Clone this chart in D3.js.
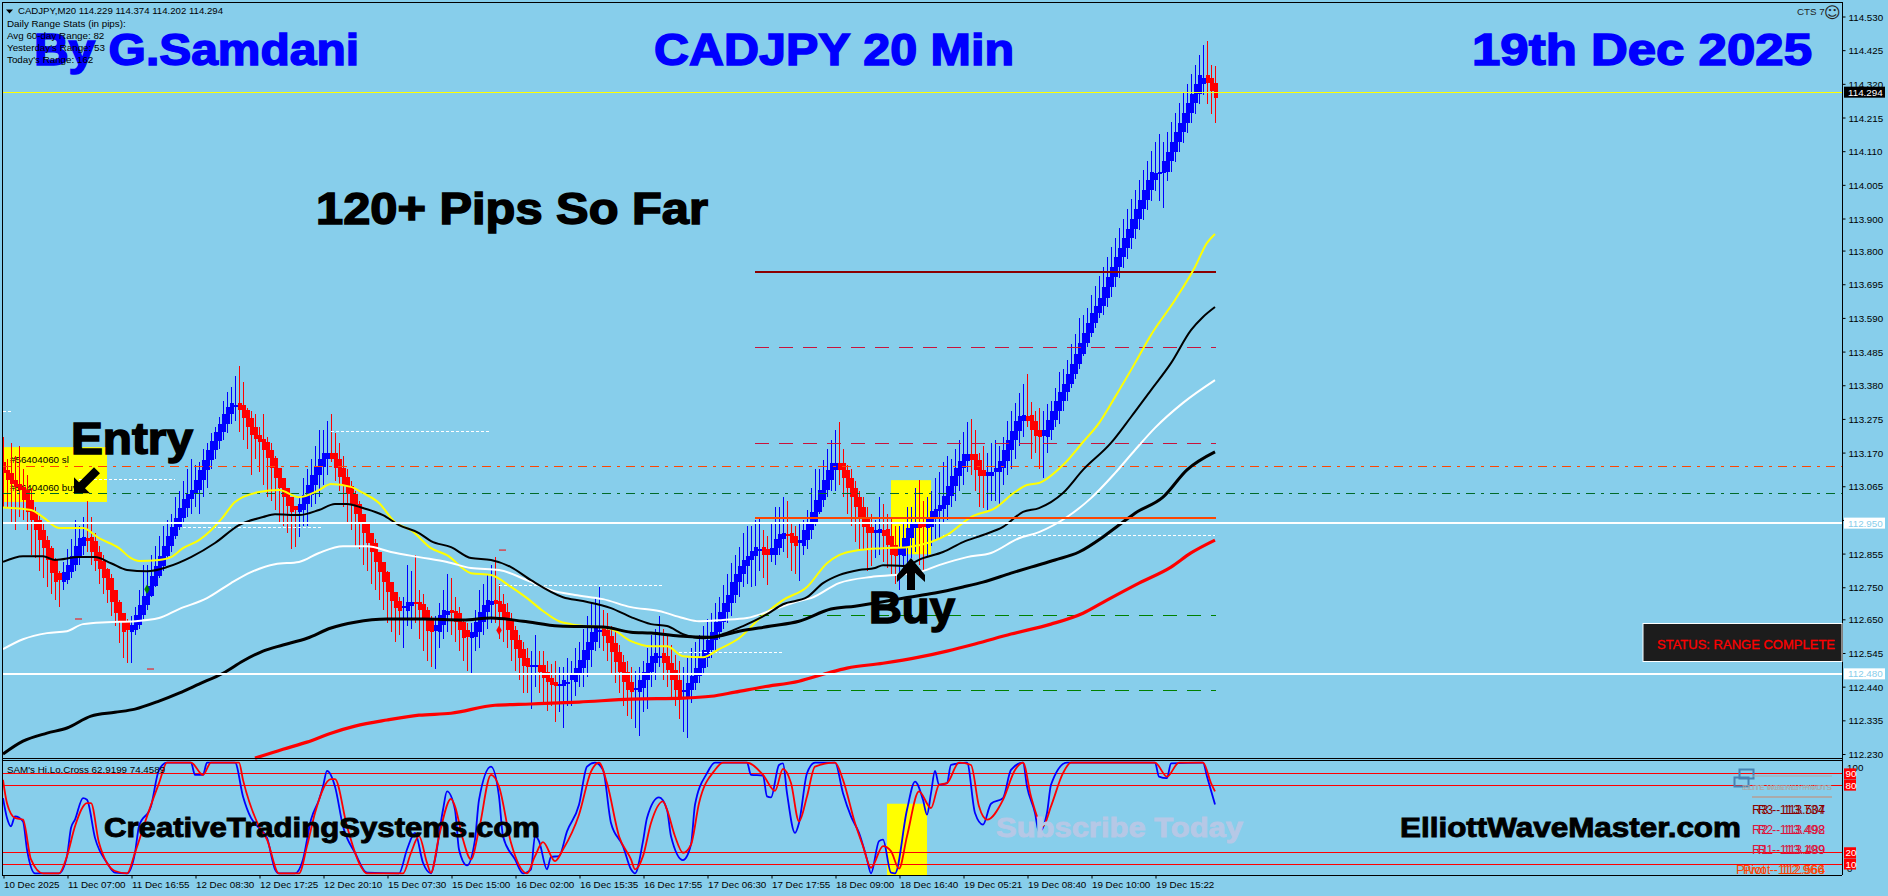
<!DOCTYPE html>
<html>
<head>
<meta charset="utf-8">
<title>CADJPY 20 Min</title>
<script src="https://cdn.jsdelivr.net/npm/d3@7"></script>
<style>
html, body { margin: 0; padding: 0; background: #87CEEB; overflow: hidden; }
svg { display: block; }
.small { font-family: "Liberation Sans", sans-serif; font-size: 9.8px; fill: #000; }
.big { font-family: "Liberation Sans", sans-serif; font-weight: bold; }
.axisTxt text { font-family: "Liberation Sans", sans-serif; font-size: 9.8px; fill: #000; }
</style>
</head>
<body>
<script>
// CADJPY M20 chart, Heiken Ashi style candles with moving averages and a stochastic window below

var candleOpen = [113.140,113.116,113.106,113.084,113.072,113.063,113.053,113.022,112.985,112.960,
112.928,112.897,112.872,112.835,112.794,112.766,112.772,112.797,112.819,112.847,
112.878,112.903,112.907,112.894,112.860,112.832,112.807,112.779,112.741,112.704,
112.669,112.641,112.610,112.616,112.632,112.663,112.694,112.722,112.754,112.785,
112.816,112.847,112.878,112.910,112.938,112.966,112.997,113.025,113.041,113.053,
113.084,113.116,113.147,113.178,113.206,113.234,113.259,113.290,113.312,113.325,
113.318,113.303,113.278,113.250,113.225,113.212,113.203,113.178,113.153,113.122,
113.091,113.059,113.031,113.003,112.985,112.991,113.010,113.038,113.069,113.100,
113.125,113.150,113.169,113.169,113.150,113.122,113.094,113.066,113.041,113.010,
112.978,112.950,112.919,112.888,112.860,112.829,112.797,112.766,112.735,112.707,
112.685,112.676,112.691,112.704,112.704,112.697,112.679,112.648,112.613,112.610,
112.632,112.663,112.679,112.676,112.669,112.641,112.616,112.591,112.594,112.610,
112.641,112.673,112.694,112.710,112.707,112.697,112.673,112.648,112.616,112.585,
112.557,112.529,112.504,112.501,112.507,112.507,112.485,112.467,112.454,112.445,
112.442,112.448,112.460,112.454,112.476,112.498,112.523,112.554,112.579,112.610,
112.626,112.616,112.598,112.576,112.548,112.517,112.485,112.454,112.429,112.423,
112.435,112.460,112.485,112.513,112.535,112.545,112.535,112.513,112.492,112.460,
112.429,112.407,112.429,112.451,112.473,112.498,112.529,112.554,112.585,112.610,
112.641,112.673,112.701,112.726,112.766,112.791,112.816,112.835,112.847,112.863,
112.875,112.869,112.850,112.850,112.872,112.900,112.916,112.919,112.910,112.888,
112.878,112.897,112.928,112.953,112.985,113.022,113.053,113.084,113.116,113.137,
113.137,113.116,113.091,113.059,113.031,113.000,112.969,112.938,112.919,112.919,
112.928,112.932,112.910,112.882,112.850,112.847,112.875,112.903,112.935,112.953,
112.953,112.935,112.938,112.966,112.988,112.994,113.006,113.034,113.066,113.097,
113.122,113.144,113.166,113.166,113.147,113.116,113.097,113.097,113.109,113.109,
113.122,113.144,113.178,113.209,113.237,113.269,113.284,113.287,113.269,113.240,
113.222,113.219,113.240,113.272,113.300,113.331,113.359,113.384,113.415,113.446,
113.478,113.512,113.543,113.574,113.605,113.627,113.652,113.687,113.718,113.749,
113.780,113.808,113.839,113.868,113.899,113.930,113.958,113.989,114.020,114.045,
114.042,114.045,114.080,114.108,114.139,114.170,114.198,114.229,114.261,114.289,
114.320,114.348,114.339,114.323];

var candleClose = [113.106,113.084,113.072,113.063,113.053,113.022,112.985,112.960,112.928,112.897,
112.872,112.835,112.794,112.766,112.772,112.797,112.819,112.847,112.878,112.903,
112.907,112.894,112.860,112.832,112.807,112.779,112.741,112.704,112.669,112.641,
112.610,112.616,112.632,112.663,112.694,112.722,112.754,112.785,112.816,112.847,
112.878,112.910,112.938,112.966,112.997,113.025,113.041,113.053,113.084,113.116,
113.147,113.178,113.206,113.234,113.259,113.290,113.312,113.325,113.318,113.303,
113.278,113.250,113.225,113.212,113.203,113.178,113.153,113.122,113.091,113.059,
113.031,113.003,112.985,112.991,113.010,113.038,113.069,113.100,113.125,113.150,
113.169,113.169,113.150,113.122,113.094,113.066,113.041,113.010,112.978,112.950,
112.919,112.888,112.860,112.829,112.797,112.766,112.735,112.707,112.685,112.676,
112.691,112.704,112.704,112.697,112.679,112.648,112.613,112.610,112.632,112.663,
112.679,112.676,112.669,112.641,112.616,112.591,112.594,112.610,112.641,112.673,
112.694,112.710,112.707,112.697,112.673,112.648,112.616,112.585,112.557,112.529,
112.504,112.501,112.507,112.507,112.485,112.467,112.454,112.445,112.442,112.448,
112.460,112.454,112.476,112.498,112.523,112.554,112.579,112.610,112.626,112.616,
112.598,112.576,112.548,112.517,112.485,112.454,112.429,112.423,112.435,112.460,
112.485,112.513,112.535,112.545,112.535,112.513,112.492,112.460,112.429,112.407,
112.429,112.451,112.473,112.498,112.529,112.554,112.585,112.610,112.641,112.673,
112.701,112.726,112.766,112.791,112.816,112.835,112.847,112.863,112.875,112.869,
112.850,112.850,112.872,112.900,112.916,112.919,112.910,112.888,112.878,112.897,
112.928,112.953,112.985,113.022,113.053,113.084,113.116,113.137,113.137,113.116,
113.091,113.059,113.031,113.000,112.969,112.938,112.919,112.919,112.928,112.932,
112.910,112.882,112.850,112.847,112.875,112.903,112.935,112.953,112.953,112.935,
112.938,112.966,112.988,112.994,113.006,113.034,113.066,113.097,113.122,113.144,
113.166,113.166,113.147,113.116,113.097,113.097,113.109,113.109,113.122,113.144,
113.178,113.209,113.237,113.269,113.284,113.287,113.269,113.240,113.222,113.219,
113.240,113.272,113.300,113.331,113.359,113.384,113.415,113.446,113.478,113.512,
113.543,113.574,113.605,113.627,113.652,113.687,113.718,113.749,113.780,113.808,
113.839,113.868,113.899,113.930,113.958,113.989,114.020,114.045,114.042,114.045,
114.080,114.108,114.139,114.170,114.198,114.229,114.261,114.289,114.320,114.348,
114.339,114.323,114.298,114.275];

var candleHigh = [113.22,113.15,113.20,113.16,113.19,113.12,113.10,113.06,113.00,112.98,
112.95,112.91,112.88,112.84,112.80,112.83,112.87,112.90,112.96,112.94,
112.97,113.02,112.97,112.92,112.88,112.85,112.81,112.79,112.74,112.71,
112.67,112.65,112.66,112.69,112.74,112.82,112.82,112.85,112.88,112.91,
112.94,112.96,112.98,113.03,113.05,113.08,113.12,113.15,113.13,113.14,
113.18,113.20,113.23,113.25,113.28,113.33,113.36,113.375,113.41,113.44,
113.39,113.31,113.30,113.29,113.25,113.29,113.22,113.20,113.16,113.12,
113.08,113.05,113.02,113.00,113.03,113.09,113.12,113.15,113.19,113.24,
113.24,113.27,113.29,113.23,113.20,113.16,113.12,113.08,113.05,113.02,
112.98,112.95,112.91,112.90,112.85,112.82,112.80,112.76,112.73,112.72,
112.72,112.82,112.80,112.85,112.74,112.73,112.69,112.66,112.66,112.70,
112.74,112.79,112.78,112.72,112.69,112.65,112.64,112.64,112.68,112.74,
112.76,112.79,112.82,112.845,112.76,112.73,112.70,112.67,112.63,112.60,
112.58,112.56,112.55,112.60,112.55,112.55,112.52,112.51,112.52,112.50,
112.50,112.53,112.52,112.56,112.58,112.62,112.66,112.70,112.72,112.75,
112.68,112.67,112.63,112.61,112.57,112.54,112.52,112.50,112.49,112.50,
112.52,112.56,112.60,112.62,112.66,112.62,112.60,112.57,112.54,112.52,
112.50,112.53,112.56,112.58,112.60,112.63,112.65,112.67,112.70,112.72,
112.757,112.79,112.825,112.85,112.875,112.92,112.94,112.94,112.96,112.97,
112.93,112.91,112.95,113.00,113.00,113.03,113.02,112.95,112.94,112.95,
112.96,112.99,113.06,113.12,113.12,113.147,113.18,113.21,113.24,113.265,
113.18,113.13,113.12,113.08,113.05,113.03,113.00,112.98,112.96,113.03,
113.01,112.98,112.97,112.94,112.94,112.95,113.00,113.00,113.06,113.084,
113.02,113.03,113.05,113.09,113.11,113.14,113.16,113.15,113.18,113.21,
113.235,113.266,113.275,113.24,113.17,113.19,113.17,113.20,113.21,113.19,
113.22,113.27,113.30,113.325,113.355,113.385,113.415,113.328,113.30,113.31,
113.30,113.32,113.33,113.37,113.42,113.43,113.46,113.51,113.54,113.59,
113.60,113.62,113.66,113.69,113.72,113.75,113.78,113.81,113.84,113.87,
113.90,113.93,113.96,113.99,114.02,114.05,114.08,114.11,114.14,114.165,
114.14,114.17,114.20,114.23,114.26,114.29,114.32,114.35,114.38,114.41,
114.44,114.455,114.38,114.376];

var candleLow = [113.00,113.00,112.95,112.93,112.97,112.96,112.93,112.85,112.84,112.80,
112.78,112.75,112.73,112.71,112.69,112.74,112.76,112.78,112.80,112.82,
112.85,112.86,112.82,112.80,112.76,112.73,112.70,112.66,112.63,112.575,
112.53,112.515,112.515,112.60,112.62,112.65,112.68,112.72,112.75,112.78,
112.80,112.84,112.86,112.90,112.93,112.95,112.97,112.98,113.00,112.98,
113.03,113.06,113.12,113.15,113.18,113.21,113.23,113.26,113.27,113.235,
113.21,113.18,113.10,113.15,113.11,113.07,113.03,113.02,112.99,112.95,
112.94,112.92,112.87,112.875,112.907,112.94,112.94,113.00,113.01,113.03,
113.07,113.10,113.14,113.08,113.05,113.00,112.95,112.93,112.88,112.87,
112.82,112.80,112.76,112.74,112.71,112.68,112.64,112.61,112.58,112.60,
112.56,112.63,112.62,112.64,112.59,112.55,112.52,112.50,112.495,112.56,
112.59,112.61,112.60,112.58,112.55,112.52,112.49,112.48,112.55,112.56,
112.60,112.62,112.64,112.64,112.59,112.58,112.56,112.52,112.49,112.46,
112.42,112.42,112.37,112.44,112.42,112.39,112.364,112.38,112.33,112.36,
112.31,112.38,112.38,112.41,112.44,112.44,112.47,112.50,112.55,112.56,
112.55,112.52,112.48,112.45,112.42,112.38,112.35,112.34,112.31,112.286,
112.36,112.37,112.44,112.46,112.50,112.46,112.44,112.40,112.38,112.34,
112.30,112.28,112.39,112.43,112.45,112.48,112.50,112.53,112.55,112.59,
112.62,112.64,112.66,112.70,112.72,112.75,112.76,112.75,112.755,112.80,
112.78,112.757,112.83,112.82,112.85,112.86,112.84,112.80,112.79,112.77,
112.85,112.87,112.90,112.94,112.98,113.00,113.03,113.05,113.05,113.07,
113.03,112.98,112.94,112.89,112.87,112.87,112.80,112.815,112.84,112.85,
112.83,112.81,112.79,112.76,112.74,112.80,112.82,112.84,112.86,112.82,
112.80,112.845,112.88,112.90,112.90,112.95,112.96,113.00,113.02,113.05,
113.07,113.11,113.10,113.05,113.00,112.997,112.99,113.02,113.02,113.006,
113.07,113.10,113.12,113.15,113.19,113.22,113.25,113.15,113.17,113.12,
113.09,113.17,113.21,113.25,113.26,113.30,113.33,113.37,113.40,113.43,
113.47,113.50,113.53,113.56,113.59,113.60,113.625,113.655,113.685,113.715,
113.745,113.775,113.805,113.835,113.865,113.895,113.925,113.955,113.986,113.955,
113.933,114.017,114.045,114.076,114.107,114.136,114.167,114.198,114.226,114.258,
114.285,114.258,114.226,114.198];

// moving averages, read at the bars where they bend
var yellowBars = [0,7,10,14,20,24,29,32,34,39,42,45,49,52,55,58,64,69,74,79,82,87,90,94,98,102,107,111,117,122,127,131,135,139,142,152,157,162,166,170,175,179,184,189,195,201,206,209,214,220,226,232,236,242,248,253,256,259,265,270,274,278,283,287,293,298,301,303];
var yellowMa = [112.999,112.991,112.969,112.935,112.935,112.903,112.872,112.841,112.832,112.835,112.844,112.872,112.897,112.928,112.969,113.016,113.047,113.053,113.031,113.053,113.072,113.063,113.044,113.013,112.953,112.928,112.872,112.850,112.794,112.788,112.751,112.716,112.676,112.644,112.635,112.620,112.582,112.566,112.566,112.535,112.532,112.557,112.591,112.651,112.710,112.751,112.825,112.850,112.866,112.872,112.875,112.891,112.913,112.969,112.997,113.047,113.069,113.075,113.131,113.203,113.262,113.343,113.449,113.537,113.646,113.749,113.824,113.852];

var thinBlackBars = [0,5,10,13,19,23,27,31,36,41,47,53,59,65,68,74,79,83,86,90,95,99,104,107,112,117,122,127,132,140,145,152,157,162,166,170,175,180,185,191,195,201,205,209,214,218,220,225,230,235,240,245,250,255,259,265,270,277,282,287,292,297,300,303];
var thinBlackMa = [112.829,112.847,112.847,112.835,112.844,112.844,112.825,112.804,112.800,112.813,112.844,112.888,112.944,112.969,112.978,112.975,112.991,113.010,113.010,112.997,112.975,112.944,112.919,112.894,112.875,112.841,112.835,112.813,112.772,112.719,112.707,112.685,112.657,112.635,112.629,112.604,112.591,112.604,112.629,112.666,112.697,112.719,112.763,112.788,112.804,112.810,112.819,112.816,112.841,112.860,112.891,112.913,112.938,112.985,112.997,113.044,113.116,113.200,113.281,113.365,113.449,113.552,113.593,113.624];

var whiteBars = [0,5,11,16,20,26,33,39,44,51,57,62,68,74,79,85,91,97,104,111,117,124,131,137,143,150,157,164,170,174,180,186,193,199,202,209,217,223,229,234,241,247,254,259,266,272,278,283,288,295,303];
var whiteMa = [112.557,112.588,112.607,112.613,112.635,112.641,112.644,112.654,112.682,112.716,112.763,112.797,112.822,112.829,112.857,112.878,112.878,112.860,112.844,112.829,112.810,112.804,112.772,112.741,112.726,112.713,112.688,112.676,112.654,112.644,112.648,112.654,112.682,112.707,112.716,112.763,112.782,112.788,112.797,112.819,112.844,112.857,112.903,112.922,112.969,113.028,113.106,113.178,113.247,113.325,113.396];

var thickBlackBars = [0,5,11,16,22,28,33,39,44,49,55,60,65,70,76,82,88,96,105,115,122,130,139,150,157,162,169,177,184,192,199,207,213,221,225,233,240,245,252,257,263,269,275,279,283,290,296,303];
var thickBlackMa = [112.230,112.270,112.295,112.311,112.348,112.360,112.370,112.395,112.420,112.448,112.482,112.520,112.551,112.570,112.591,112.623,112.641,112.651,112.651,112.648,112.654,112.644,112.629,112.626,112.610,112.607,112.598,112.594,112.613,112.629,112.644,112.682,112.691,112.707,112.716,112.732,112.751,112.766,112.794,112.813,112.835,112.860,112.907,112.944,112.981,113.031,113.116,113.172];

var redBars = [63,70,76,82,88,96,104,112,123,132,144,157,170,177,183,190,199,206,211,220,229,236,243,252,262,270,276,284,292,297,303];
var redMa = [112.217,112.245,112.267,112.295,112.317,112.336,112.351,112.357,112.382,112.386,112.392,112.401,112.404,112.410,112.423,112.439,112.457,112.482,112.498,112.513,112.532,112.551,112.573,112.604,112.635,112.669,112.710,112.763,112.813,112.857,112.897];

// stochastic window
var stochMainBars = [0,1,2,3,5,6,8,14,16,17,18,20,21,23,26,28,31,33,34,37,39,41,47,48,50,51,58,60,62,64,66,68,69,73,75,77,79,80,81,83,85,88,91,99,101,103,105,107,108,110,111,113,114,116,118,119,122,124,125,128,130,132,133,134,136,137,139,141,144,146,148,150,152,155,157,158,160,161,164,166,167,170,172,173,176,178,186,187,190,191,192,194,195,196,198,199,201,203,208,210,212,214,216,217,219,220,222,223,226,228,230,231,232,233,234,236,237,241,243,245,247,250,252,255,256,258,259,261,262,266,288,289,291,292,300,301,303];
var stochMain = [68.5,50.9,43.5,52.3,47.9,22.9,1.7,1.7,17,42,49.4,68.5,67,33.2,11.1,2.3,1.7,20,43.5,61.2,93.5,100,100,89.1,89.1,100,100,70,50.9,42,33.2,5.3,1.7,1.7,14.1,49.4,67,78.8,92.6,78.8,43.5,20,2.3,1.7,22.9,37.6,11.1,1.7,14.1,58.2,74.4,58.2,22.9,8.8,31.7,67,96.5,70,34.7,14.1,1.7,5.3,34.7,30.3,5.3,16.4,17,39,62.6,96.5,100,93.5,46.4,25.9,5.3,1.7,30.3,50.9,69.1,58.2,34.7,13.5,27.3,62.6,90.6,100,100,89.1,88.5,70,69.1,97.9,99.4,72.9,37.6,46.4,90.6,100,100,72.9,52.3,37.6,14.1,1.7,30.3,31.7,2.3,1.7,58.2,83.2,67,53.8,72.9,92.6,80.3,81.8,97.9,100,55.3,45,63.5,68.5,93.5,100,78.8,55.3,38.2,55.3,80.3,100,100,87.6,86.2,99.4,100,87.6,62.9];

var stochSignalBars = [0,1,3,5,7,10,14,16,18,21,22,24,28,31,33,36,39,41,47,50,52,59,60,64,66,69,74,76,78,82,83,86,89,91,100,102,104,106,107,109,112,113,115,117,119,122,124,127,131,133,135,138,140,144,147,149,151,154,157,158,160,162,165,166,168,170,172,174,178,180,186,190,193,195,197,199,201,203,208,210,213,215,217,220,222,224,226,229,232,234,236,239,242,244,246,250,253,255,257,260,262,265,267,288,291,294,300,302,303];
var stochSignal = [84.7,64,50.9,49.4,14.1,1.7,1.7,17,43.5,64,64,28.8,3.8,1.7,20,52.3,81.8,100,100,89.1,100,100,84.7,43.5,31.7,1.7,1.7,25.9,55.3,85.3,85.3,43.5,11.1,1.7,1.7,20,34.7,11.1,2.3,34.7,67.9,61.2,31.7,14.1,40.6,89.1,78.8,28.8,1.7,17,29.4,12.6,22.9,53.8,92,100,81.8,34.7,14.1,5.3,17,46.4,65.6,58.2,34.7,20,27.3,64,93.5,100,100,89.1,75,94.4,81.8,47.9,70,96.5,100,84.7,46.4,25.9,6.7,25.9,21.4,5.9,34.7,74.4,59.7,80.3,81.8,100,97.9,61.2,49.4,67,93.5,100,70,43.5,61.2,90.6,100,100,87.6,100,100,81.8,74.4];

var stochLevels = [90, 80, 20, 10];

var priceTicks = [114.530,114.425,114.320,114.215,114.110,114.005,113.900,113.800,113.695,113.590,113.485,113.380,113.275,113.170,113.065,112.960,112.855,112.750,112.650,112.545,112.440,112.335,112.230];
var timeBars = [0,16,32,48,64,80,96,112,128,144,160,176,192,208,224,240,256,272,288];
var timeLabels = ["10 Dec 2025","11 Dec 07:00","11 Dec 16:55","12 Dec 08:30","12 Dec 17:25","12 Dec 20:10","15 Dec 07:30","15 Dec 15:00","16 Dec 02:00","16 Dec 15:35","16 Dec 17:55","17 Dec 06:30","17 Dec 17:55","18 Dec 09:00","18 Dec 16:40","19 Dec 05:21","19 Dec 08:40","19 Dec 10:00","19 Dec 15:22"];

// short white dotted levels: price, first bar, last bar
var dotPrices = [113.297,113.235,113.087,112.937,112.756,112.546,112.910];
var dotFrom = [0,82,19,45,124,169,235];
var dotTo = [2,122,43,80,165,195,303];

// levels drawn over the last days
var pivotFrom = 188;
var pivotTo = 303;
var lastPrice = 114.294;
var r3Price = 113.734, r2Price = 113.498, r1Price = 113.199, pivotPrice = 112.966;
var s1Price = 112.662, s2Price = 112.428;
var slPrice = 113.127, buyPrice = 113.043;
var whitePrices = [112.950, 112.480];
var whiteLabels = ["112.950", "112.480"];

var chartLeft = 2, chartRight = 1842, chartTop = 2, mainBottom = 758, subTop = 760, subBottom = 875;

var svg = d3.select("body").append("svg").attr("width", 1888).attr("height", 896);

var xBar = d3.scaleLinear().domain([0, 303]).range([3, 1215]);
var yPrice = d3.scaleLinear().domain([112.230, 114.530]).range([754, 16.5]);
var yStoch = d3.scaleLinear().domain([0, 100]).range([875.3, 762.6]);

svg.append("rect").attr("width", 1888).attr("height", 896).attr("fill", "#87CEEB");

// yellow highlight boxes, under the candles
function highlight(b0, b1, y0, y1) {
	svg.append("rect")
		.attr("x", xBar(b0)).attr("y", y0)
		.attr("width", xBar(b1) - xBar(b0)).attr("height", y1 - y0)
		.attr("fill", "#ffff00");
}
highlight(0, 26, yPrice(113.187), yPrice(113.016));
highlight(222, 232, yPrice(113.084), yPrice(112.853));
highlight(221, 231, yStoch(63.5), yStoch(0));

svg.append("text").attr("class", "small").attr("x", 10).attr("y", 463).text("#56404060 sl");
svg.append("text").attr("class", "small").attr("x", 10).attr("y", 491).text("#56404060 buy");

// candles
var candles = svg.append("g").attr("shape-rendering", "crispEdges");
d3.range(candleClose.length).forEach(function (i) {
	var up = candleClose[i] >= candleOpen[i];
	var color = up ? "#0000ff" : "#ff0000";
	candles.append("line")
		.attr("x1", xBar(i) + 0.5).attr("x2", xBar(i) + 0.5)
		.attr("y1", yPrice(candleHigh[i])).attr("y2", yPrice(candleLow[i]))
		.attr("stroke", color).attr("stroke-width", 1);
	var top = yPrice(Math.max(candleOpen[i], candleClose[i]));
	var bot = yPrice(Math.min(candleOpen[i], candleClose[i]));
	candles.append("rect")
		.attr("x", xBar(i) - 1.5).attr("width", 4)
		.attr("y", top).attr("height", Math.max(bot - top, 2))
		.attr("fill", color);
});

// horizontal levels
function hLevel(price, b0, b1, color, width, dash) {
	svg.append("line")
		.attr("x1", b0).attr("x2", b1)
		.attr("y1", yPrice(price)).attr("y2", yPrice(price))
		.attr("stroke", color).attr("stroke-width", width)
		.attr("stroke-dasharray", dash || null)
		.attr("shape-rendering", "crispEdges");
}
var levelFrom = xBar(pivotFrom), levelTo = xBar(pivotTo) + 1;
hLevel(slPrice, chartLeft, chartRight, "#ff4500", 1, "9,6,3,6");
hLevel(buyPrice, chartLeft, chartRight, "#006b2a", 1, "9,6,3,6");
dotPrices.forEach(function (p, i) {
	hLevel(p, xBar(dotFrom[i]), xBar(dotTo[i]), "#ffffff", 1, "3,2");
});
hLevel(r3Price, levelFrom, levelTo, "#8b0000", 2);
hLevel(r2Price, levelFrom, levelTo, "#c8143c", 1, "14,10");
hLevel(r1Price, levelFrom, levelTo, "#c8143c", 1, "14,10");
hLevel(s1Price, levelFrom, levelTo, "#008000", 1, "14,10");
hLevel(s2Price, levelFrom, levelTo, "#008000", 1, "14,10");

// moving averages
function maLine(bars, values, color, width) {
	var line = d3.line()
		.x(function (d, i) { return xBar(bars[i]); })
		.y(function (d) { return yPrice(d); })
		.curve(d3.curveMonotoneX);
	svg.append("path").datum(values)
		.attr("d", line)
		.attr("fill", "none").attr("stroke", color).attr("stroke-width", width);
}
maLine(yellowBars, yellowMa, "#ffff00", 2);
maLine(whiteBars, whiteMa, "#ffffff", 2);
maLine(thinBlackBars, thinBlackMa, "#000000", 2);
maLine(thickBlackBars, thickBlackMa, "#000000", 3);
maLine(redBars, redMa, "#ff0000", 3.2);

hLevel(pivotPrice, levelFrom, levelTo, "#ff4500", 2.5);
whitePrices.forEach(function (p) { hLevel(p, chartLeft, chartRight, "#ffffff", 2.2); });
hLevel(lastPrice, chartLeft, chartRight, "#ffff00", 1);

// fractal marks
svg.append("g").selectAll("line")
	.data([[18, 112.651], [36, 112.495], [124, 112.866]])
	.enter().append("line")
	.attr("x1", function (d) { return xBar(d[0]); })
	.attr("x2", function (d) { return xBar(d[0]) + 7; })
	.attr("y1", function (d) { return yPrice(d[1]); })
	.attr("y2", function (d) { return yPrice(d[1]); })
	.attr("stroke", "#ff0000").attr("stroke-width", 1);
svg.append("path").attr("d", d3.symbol().type(d3.symbolDiamond).size(26)())
	.attr("transform", "translate(" + xBar(36) + "," + yPrice(112.744) + ")").attr("fill", "#008000");
svg.append("path").attr("d", d3.symbol().type(d3.symbolDiamond).size(26)())
	.attr("transform", "translate(" + xBar(124) + "," + yPrice(112.616) + ")").attr("fill", "#ff0000");

// stochastic window
stochLevels.forEach(function (v) {
	svg.append("line")
		.attr("x1", chartLeft).attr("x2", chartRight)
		.attr("y1", yStoch(v)).attr("y2", yStoch(v))
		.attr("stroke", "#ff0000").attr("stroke-width", 1)
		.attr("shape-rendering", "crispEdges");
});
function stochLine(bars, values, color) {
	var line = d3.line()
		.x(function (d, i) { return xBar(bars[i]); })
		.y(function (d) { return yStoch(d); })
		.curve(d3.curveMonotoneX);
	svg.append("path").datum(values)
		.attr("d", line)
		.attr("fill", "none").attr("stroke", color).attr("stroke-width", 1.8);
}
stochLine(stochMainBars, stochMain, "#0000ff");
stochLine(stochSignalBars, stochSignal, "#ff0000");

// frame lines
function frame(x1, y1, x2, y2) {
	svg.append("line").attr("x1", x1).attr("y1", y1).attr("x2", x2).attr("y2", y2)
		.attr("stroke", "#000").attr("stroke-width", 1);
}
frame(chartLeft, chartTop + 0.5, chartRight, chartTop + 0.5);
frame(chartLeft + 0.5, chartTop, chartLeft + 0.5, subBottom);
frame(chartRight + 0.5, chartTop, chartRight + 0.5, subBottom);
frame(chartLeft, mainBottom + 0.5, chartRight, mainBottom + 0.5);
frame(chartLeft, subTop + 0.5, chartRight, subTop + 0.5);
frame(chartLeft, subBottom + 0.5, chartRight, subBottom + 0.5);

// axes
var priceAxis = d3.axisRight(yPrice).tickValues(priceTicks).tickFormat(d3.format(".3f")).tickSize(3).tickPadding(3);
var priceG = svg.append("g").attr("class", "axisTxt").attr("transform", "translate(" + (chartRight + 0.5) + ",0)").call(priceAxis);
priceG.select(".domain").remove();
priceG.selectAll("text").attr("dy", "0.36em");

var timeAxis = d3.axisBottom(xBar).tickValues(timeBars).tickFormat(function (d, i) { return timeLabels[i]; }).tickSize(3).tickPadding(3);
var timeG = svg.append("g").attr("class", "axisTxt").attr("transform", "translate(0.5," + (subBottom + 0.5) + ")").call(timeAxis);
timeG.select(".domain").remove();
timeG.selectAll("text").attr("text-anchor", "start").attr("x", 0);

// price labels on the right
svg.append("rect").attr("x", 1844).attr("y", yPrice(lastPrice) - 5.5).attr("width", 41).attr("height", 11).attr("fill", "#000");
svg.append("text").attr("class", "small").attr("x", 1848).attr("y", yPrice(lastPrice) + 3.5).style("fill", "#ffffff").text("114.294");
whitePrices.forEach(function (p, i) {
	svg.append("rect").attr("x", 1844).attr("y", yPrice(p) - 5.5).attr("width", 41).attr("height", 11).attr("fill", "#fff");
	svg.append("text").attr("class", "small").attr("x", 1848).attr("y", yPrice(p) + 3.5).style("fill", "#87CEEB").text(whiteLabels[i]);
});

// stochastic scale labels
[[100, 770.5], [0, 871.5]].forEach(function (d) {
	svg.append("text").attr("class", "small").attr("x", 1847).attr("y", d[1]).text(d[0]);
});
stochLevels.forEach(function (v) {
	svg.append("rect").attr("x", 1844).attr("y", yStoch(v) - 5.5).attr("width", 12).attr("height", 11).attr("fill", "#ff0000");
	svg.append("text").attr("class", "small").attr("x", 1845.5).attr("y", yStoch(v) + 3.5).style("fill", "#ffffff").text(v);
});

// big captions
function bigText(txt, x, y, len, size, color) {
	svg.append("text").attr("class", "big")
		.attr("x", x).attr("y", y)
		.attr("font-size", size)
		.attr("textLength", len).attr("lengthAdjust", "spacingAndGlyphs")
		.attr("fill", color).attr("stroke", color).attr("stroke-width", size * 0.034)
		.text(txt);
}
bigText("By G.Samdani", 34, 65, 325, 44, "#0000ff");
bigText("CADJPY 20 Min", 654, 65, 360, 44, "#0000ff");
bigText("19th Dec 2025", 1472, 65, 340, 44, "#0000ff");
bigText("120+ Pips So Far", 316, 224, 392, 44, "#000000");
bigText("Entry", 71, 454, 122, 44, "#000000");
bigText("Buy", 869, 623, 86, 44, "#000000");
bigText("CreativeTradingSystems.com", 104, 837, 436, 27, "#000000");
bigText("Subscribe Today", 996, 837, 247, 27, "#b6c8e6");
bigText("ElliottWaveMaster.com", 1400, 837, 341, 27, "#000000");

// entry and buy arrows
svg.append("path").attr("d", "M-13,13 L-13,-3 L-8,2 L7,-13 L13,-7 L-2,8 L3,13 Z")
	.attr("transform", "translate(" + xBar(21) + "," + yPrice(113.084) + ")").attr("fill", "#000");
svg.append("path").attr("d", "M0,-16 L14,1 L14,8 L4,-1 L4,16 L-4,16 L-4,-1 L-14,8 L-14,1 Z")
	.attr("transform", "translate(" + xBar(227) + "," + yPrice(112.791) + ")").attr("fill", "#000");

// top left information
svg.append("path").attr("d", "M6,9.5 L13,9.5 L9.5,13.5 Z").attr("fill", "#000");
svg.append("text").attr("class", "small").attr("x", 18).attr("y", 14)
	.attr("textLength", 205).attr("lengthAdjust", "spacingAndGlyphs")
	.text("CADJPY,M20 114.229 114.374 114.202 114.294");
var statLines = ["Daily Range Stats (in pips):", "Avg 60-day Range: 82", "Yesterday's Range: 53", "Today's Range: 162"];
statLines.forEach(function (t, i) {
	svg.append("text").attr("class", "small").attr("x", 7).attr("y", 27 + i * 12).text(t);
});
svg.append("text").attr("class", "small").attr("x", 7).attr("y", 773).text("SAM's Hi.Lo.Cross 62.9199 74.4589");

// top right label
svg.append("text").attr("class", "small").attr("x", 1797).attr("y", 15).style("fill", "#222").text("CTS 7");
svg.append("text").attr("x", 1824).attr("y", 18).attr("font-family", "DejaVu Sans").attr("font-size", 16).attr("fill", "#222").text("\u263A");

// status box
svg.append("rect").attr("x", 1643).attr("y", 623.5).attr("width", 199).attr("height", 38).attr("fill", "#1c1c1c").attr("stroke", "#fff").attr("stroke-width", 1);
svg.append("text").attr("x", 1657).attr("y", 649).attr("font-family", "Liberation Sans").attr("font-size", 13)
	.attr("textLength", 178).attr("lengthAdjust", "spacingAndGlyphs")
	.attr("fill", "#ff0000").attr("stroke", "#ff0000").attr("stroke-width", 0.3).text("STATUS: RANGE COMPLETE");

// weekly pivots panel
svg.append("rect").attr("x", 1739.5).attr("y", 769.5).attr("width", 14).attr("height", 9).attr("fill", "none").attr("stroke", "#4682b4").attr("stroke-width", 2);
svg.append("rect").attr("x", 1734.5).attr("y", 777.5).attr("width", 14).attr("height", 9).attr("fill", "none").attr("stroke", "#4682b4").attr("stroke-width", 2);
svg.append("line").attr("x1", 1752).attr("x2", 1832).attr("y1", 776).attr("y2", 776).attr("stroke", "#aaa").attr("stroke-width", 1);
svg.append("line").attr("x1", 1752).attr("x2", 1832).attr("y1", 797).attr("y2", 797).attr("stroke", "#aaa").attr("stroke-width", 2);
["ELITE WEEKLY PIVOTS", "ELITE MONTHLY PIVOTS"].forEach(function (t, i) {
	svg.append("text").attr("x", 1742 + i * 2).attr("y", 790).attr("font-family", "Liberation Sans").attr("font-size", 8)
		.attr("textLength", 90 - i * 2).attr("lengthAdjust", "spacingAndGlyphs").attr("fill", "#aaa").text(t);
});
// each row is written twice in the reference, the two copies sit almost on top of each other
var pivotRows = [
	["R3 - 113.734", 1752, 73, "R3 - 113.507", 1758, 67, 814, "#8b0000"],
	["R2 - 113.498", 1752, 73, "R2 - 113.492", 1758, 67, 834, "#dc143c"],
	["R1 - 113.199", 1752, 73, "R1 - 113.489", 1758, 67, 854, "#dc143c"],
	["Pivot - 112.966", 1736, 89, "Pivot - 112.564", 1743, 82, 874, "#ff4500"]
];
pivotRows.forEach(function (r) {
	[0, 3].forEach(function (k) {
		svg.append("text").attr("x", r[k + 1]).attr("y", r[6])
			.attr("font-family", "Liberation Sans").attr("font-size", 13).attr("fill", r[7])
			.attr("textLength", r[k + 2]).attr("lengthAdjust", "spacingAndGlyphs")
			.text(r[k]);
	});
});
</script>
</body>
</html>
